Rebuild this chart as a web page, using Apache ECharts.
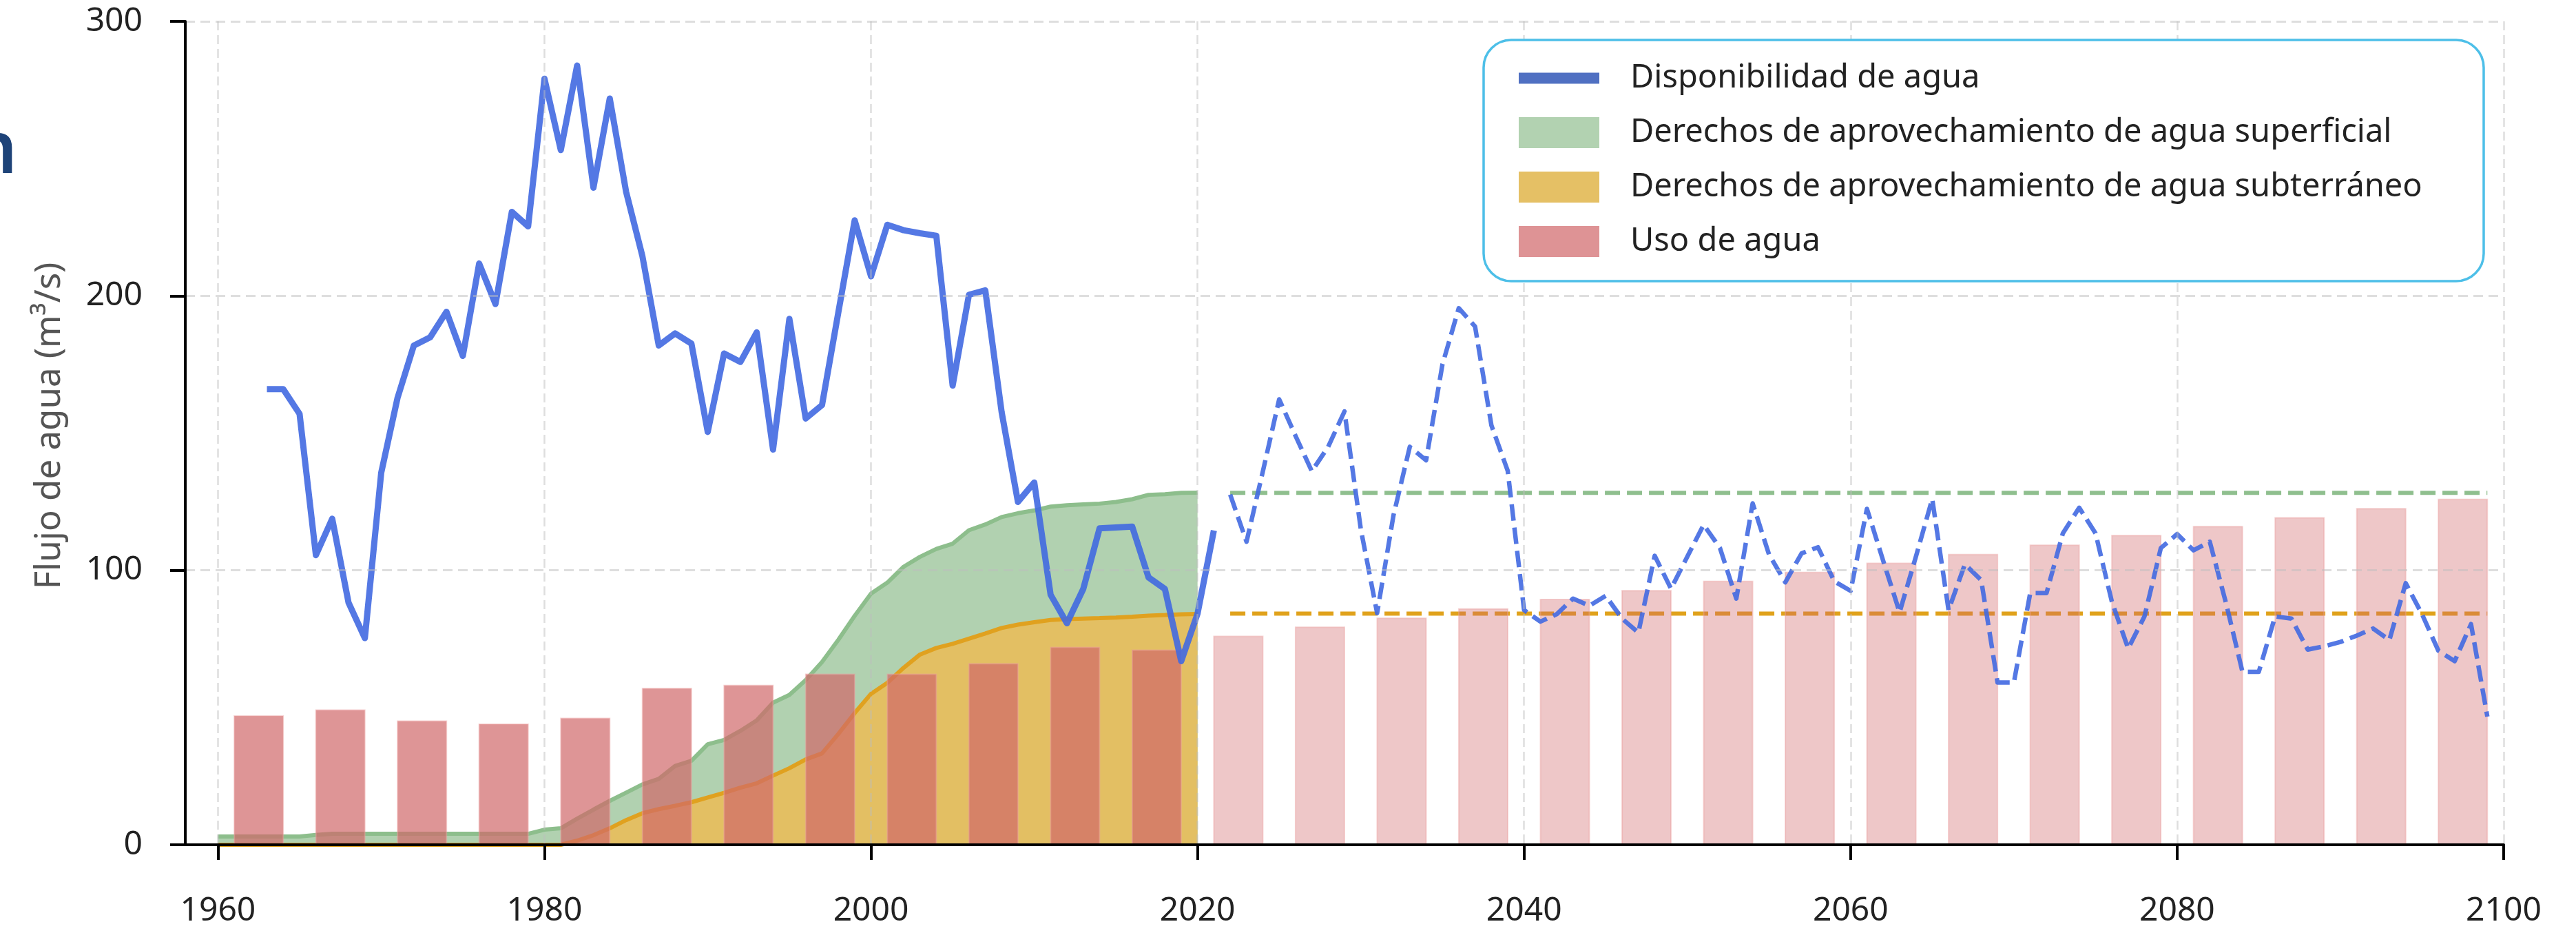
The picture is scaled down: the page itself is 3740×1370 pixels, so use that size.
<!DOCTYPE html>
<html><head><meta charset="utf-8">
<script src="https://cdn.jsdelivr.net/npm/echarts@6/dist/echarts.min.js"></script>
<style>html,body{margin:0;padding:0;background:#fff}#c{width:3740px;height:1370px}</style>
</head><body><div id="c"></div>
<script>
// ---------- data ----------
const tickYears = [1960, 1980, 2000, 2020, 2040, 2060, 2080, 2100];

const histYears = [1963,1964,1965,1966,1967,1968,1969,1970,1971,1972,
  1973,1974,1975,1976,1977,1978,1979,1980,1981,1982,
  1983,1984,1985,1986,1987,1988,1989,1990,1991,1992,
  1993,1994,1995,1996,1997,1998,1999,2000,2001,2002,
  2003,2004,2005,2006,2007,2008,2009,2010,2011,2012,
  2013,2014,2015,2016,2017,2018,2019,2020,2021];
const histFlow = [166,166,157,105.5,118.8,88.2,75.3,135.5,162.8,181.9,
  184.9,194.2,178.1,211.8,197.0,230.6,225.3,279.1,253.1,283.9,
  239.4,271.9,237.9,214.4,181.9,186.3,182.6,150.4,179.0,175.9,
  186.7,144.0,191.6,155.3,160.2,194,227.5,207.1,225.9,223.9,
  222.8,221.9,167.3,200.4,202.0,157.7,124.9,132.0,91.1,80.7,
  93.2,115.3,115.6,115.9,97.4,93.2,66.9,84.2,114.5];

const projYears = [2022,2023,2024,2025,2026,2027,2028,2029,2030,2031,
  2032,2033,2034,2035,2036,2037,2038,2039,2040,2041,
  2042,2043,2044,2045,2046,2047,2048,2049,2050,2051,
  2052,2053,2054,2055,2056,2057,2058,2059,2060,2061,
  2062,2063,2064,2065,2066,2067,2068,2069,2070,2071,
  2072,2073,2074,2075,2076,2077,2078,2079,2080,2081,
  2082,2083,2084,2085,2086,2087,2088,2089,2090,2091,
  2092,2093,2094,2095,2096,2097,2098,2099];
const projFlow = [127.6,110.4,136,162.3,149,136.1,145.0,157.9,115,84.4,
  120,145.0,140.1,175,195.5,188.8,152.8,136.2,85.5,81.3,
  84,89.7,87.1,90.7,82.4,77.3,105.3,93.3,105.0,116.6,
  108.1,89.7,124.4,105.8,95.6,106.2,108.4,96.0,92.5,122.4,
  103.4,84.7,105.0,126.0,85.5,102.2,96.4,59.1,59.1,91.7,
  91.7,113.5,122.8,113.5,88.6,71.5,83.2,108.1,113.2,107.3,
  110.4,87.9,63.0,63.0,83.2,82.4,71.1,72.3,73.9,76.2,
  78.8,74.6,95.3,84.0,70.7,66.9,80.4,46.7];

const rightsYears = [1960,1961,1962,1963,1964,1965,1966,1967,1968,1969,
  1970,1971,1972,1973,1974,1975,1976,1977,1978,1979,
  1980,1981,1982,1983,1984,1985,1986,1987,1988,1989,
  1990,1991,1992,1993,1994,1995,1996,1997,1998,1999,
  2000,2001,2002,2003,2004,2005,2006,2007,2008,2009,
  2010,2011,2012,2013,2014,2015,2016,2017,2018,2019,2020];
const surfaceRights = [3,3,3,3,3,3,3.6,4,4,4,
  4,4,4,4,4,4,4,4,4,4,
  5.5,6,9.5,12.8,16,19,22,24,28.7,30.6,
  36.6,38.2,41.5,45.3,51.8,54.6,60,66.6,74.7,83.4,
  91.5,95.5,101.3,104.9,107.8,109.7,114.6,116.7,119.4,120.8,
  121.8,123.2,123.7,124,124.3,124.9,125.9,127.5,127.7,128.2,128.3];
const groundRights = [0,0,0,0,0,0,0,0,0,0,
  0,0,0,0,0,0,0,0,0,0,
  0,0,1.5,3.5,6,9,11.5,13,14.2,15.5,
  17.2,18.9,20.8,22.4,25.2,27.9,31.1,33.3,40.4,48,
  55,59,64.5,69.3,71.7,73.2,75.1,77,79,80.2,
  81.1,81.9,82.2,82.4,82.6,82.8,83.1,83.5,83.7,84,84.1];

const rightsProjYears = [2022, 2099];
const surfaceRightsProj = [128.2, 128.2];
const groundRightsProj = [84.2, 84.2];

const useYearsHist = [1962.5,1967.5,1972.5,1977.5,1982.5,1987.5,1992.5,1997.5,2002.5,2007.5,2012.5,2017.5];
const useHist = [47.2,49.3,45.3,44.2,46.3,57.2,58.3,62.4,62.4,66.2,72.2,71.2];
const useYearsProj = [2022.5,2027.5,2032.5,2037.5,2042.5,2047.5,2052.5,2057.5,2062.5,2067.5,2072.5,2077.5,2082.5,2087.5,2092.5,2097.5];
const useProj = [76.2,79.5,82.8,86.2,89.6,92.8,96.2,99.5,102.8,106.0,109.4,112.9,116.2,119.4,122.7,126.1];

const seriesNames = ['Disponibilidad de agua',
  'Derechos de aprovechamiento de agua superficial',
  'Derechos de aprovechamiento de agua subterráneo',
  'Uso de agua'];
const yAxisName = 'Flujo de agua (m³/s)';

// ---------- build ----------
const zip = (xs, ys) => xs.map((x, i) => [x, ys[i]]);
const FONT = 'Noto Sans';
const barData = zip(useYearsHist, useHist).map(d => ({value: d, itemStyle: {color: 'rgba(208,104,106,0.7)'}}))
  .concat(zip(useYearsProj, useProj).map(d => ({value: d, itemStyle: {color: 'rgba(208,104,106,0.37)'}})));
const dash = [22, 10];

const chart = echarts.init(document.getElementById('c'), null, {renderer: 'canvas'});
chart.setOption({
  animation: false,
  backgroundColor: '#ffffff',
  textStyle: {fontFamily: FONT},
  grid: {left: 269, right: 105, top: 31, bottom: 144, containLabel: false},
  xAxis: {
    type: 'value', min: 1958, max: 2100, z: 10,
    axisLine: {show: true, onZero: false, lineStyle: {color: '#000', width: 4}},
    axisTick: {show: true, customValues: tickYears, length: 22, lineStyle: {color: '#000', width: 4}},
    axisLabel: {customValues: tickYears, fontSize: 48, color: '#222', margin: 72, fontFamily: FONT,
      formatter: v => String(v)},
    splitLine: {show: true, lineStyle: {color: 'rgba(190,190,190,0.5)', width: 2.5, type: [13, 7]}}
  },
  yAxis: {
    type: 'value', min: 0, max: 300, interval: 100, z: 10,
    axisLine: {show: true, lineStyle: {color: '#000', width: 4}},
    axisTick: {show: true, length: 22, lineStyle: {color: '#000', width: 4}},
    axisLabel: {fontSize: 48, color: '#222', margin: 62, fontFamily: FONT},
    splitLine: {show: true, lineStyle: {color: 'rgba(190,190,190,0.5)', width: 3, type: [14, 8]}}
  },
  legend: {
    orient: 'vertical', left: 2205, top: 90, padding: 0, z: 120,
    selectedMode: false,
    itemWidth: 117, itemHeight: 45, itemGap: 32,
    itemStyle: {borderWidth: 0},
    textStyle: {fontSize: 47, color: '#222', lineHeight: 45, padding: [0, 0, 0, 40], fontFamily: FONT},
    data: [
      {name: seriesNames[0], icon: 'path://M0,0H117V16H0Z', itemStyle: {color: '#5070c2'}},
      {name: seriesNames[1], icon: 'rect', itemStyle: {color: '#b2d2b1'}},
      {name: seriesNames[2], icon: 'rect', itemStyle: {color: '#e5c065'}},
      {name: seriesNames[3], icon: 'rect', itemStyle: {color: '#de9395'}}
    ]
  },
  graphic: [
    {type: 'rect', z: 100, shape: {x: 2154, y: 58, width: 1452, height: 350, r: 40},
     style: {fill: '#ffffff', stroke: '#4dbfe8', lineWidth: 3.5}},
    {type: 'text', z: 100, x: 25, y: 221,
     style: {text: 'n', fill: '#1e4378', font: '600 104px "Noto Sans"', textAlign: 'right', textVerticalAlign: 'middle'}},
    {type: 'text', z: 100, x: 72, y: 618, rotation: Math.PI / 2,
     style: {text: yAxisName, fill: '#555', font: '51px "Noto Sans"', textAlign: 'center', textVerticalAlign: 'middle'}}
  ],
  series: [
    {name: seriesNames[1], type: 'line', z: 1, showSymbol: false, symbol: 'none',
     data: zip(rightsYears, surfaceRights),
     lineStyle: {color: '#8dbe8c', width: 6}, itemStyle: {color: '#b2d2b1'},
     areaStyle: {color: '#b1d1b0', opacity: 1}},
    {name: seriesNames[2], type: 'line', z: 1, showSymbol: false, symbol: 'none',
     data: zip(rightsYears, groundRights),
     lineStyle: {color: '#e0a11f', width: 6}, itemStyle: {color: '#e5c065'},
     areaStyle: {color: '#e3bf63', opacity: 1}},
    {name: 'surface-proj', type: 'line', z: 1, showSymbol: false, symbol: 'none',
     data: zip(rightsProjYears, surfaceRightsProj),
     lineStyle: {color: '#8fbf8e', width: 6, type: dash}},
    {name: 'ground-proj', type: 'line', z: 1, showSymbol: false, symbol: 'none',
     data: zip(rightsProjYears, groundRightsProj),
     lineStyle: {color: '#e0a21c', width: 6, type: dash}},
    {name: seriesNames[3], type: 'bar', z: 2, barWidth: 73,
     itemStyle: {color: 'rgba(208,104,106,0.7)', borderColor: 'rgba(235,160,160,0.45)', borderWidth: 2},
     data: barData},
    {name: seriesNames[0], type: 'line', z: 3, showSymbol: false, symbol: 'none',
     data: zip(histYears, histFlow),
     itemStyle: {color: '#5070c2'},
     lineStyle: {color: 'rgba(65,105,225,0.9)', width: 9, cap: 'butt', join: 'round'}},
    {name: 'proj-flow', type: 'line', z: 3, showSymbol: false, symbol: 'none',
     data: zip(projYears, projFlow),
     lineStyle: {color: 'rgba(65,105,225,0.9)', width: 6.5, type: [24, 10], join: 'round'}}
  ]
});
</script>
</body></html>
